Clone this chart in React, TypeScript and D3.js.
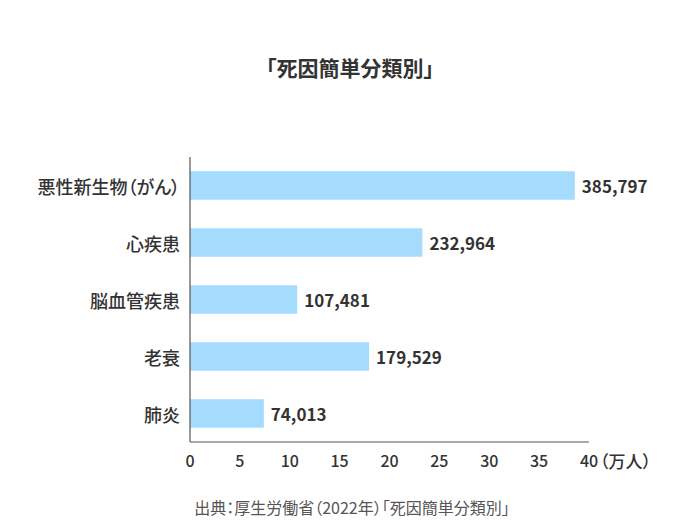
import React from "react";
import * as d3 from "d3";

const categories = ["悪性新生物（がん）", "心疾患", "脳血管疾患", "老衰", "肺炎"];
const deaths = [385797, 232964, 107481, 179529, 74013];
const ticks = [0, 5, 10, 15, 20, 25, 30, 35, 40];
const unitLabel = "（万人）";
const title = "「死因簡単分類別」";
const source = "出典：厚生労働省（2022年）「死因簡単分類別」";

const W = 700;
const H = 528;
const FONT = "'Noto Sans CJK JP', 'Noto Sans', sans-serif";
const palt = { fontFeatureSettings: "'palt'" };

export default function App() {
  const x = d3.scaleLinear().domain([0, 40]).range([190, 589]);
  const y = d3
    .scaleBand<string>()
    .domain(categories)
    .range([157, 442])
    .paddingInner(0.5)
    .paddingOuter(0.25);
  const fmt = d3.format(",");
  const axisY = 442;
  return (
    <svg
      width={W}
      height={H}
      style={{ position: "absolute", left: 0, top: 0, background: "#fff" }}
      fontFamily={FONT}
    >
      <text x={350} y={66.5} textAnchor="middle" dominantBaseline="central" fontSize={21} fontWeight={700} fill="#333" style={palt}>
        {title}
      </text>
      {categories.map((c, i) => {
        const v = deaths[i] / 10000;
        const yc = (y(c) as number) + y.bandwidth() / 2;
        return (
          <g key={c}>
            <rect x={x(0)} y={y(c)} width={x(v) - x(0)} height={y.bandwidth()} fill="#a5dbfd" />
            <text x={x(0) - 10} y={yc} textAnchor="end" dominantBaseline="central" fontSize={18} fontWeight={500} fill="#333" style={palt}>
              {c}
            </text>
            <text x={x(v) + 7} y={yc} textAnchor="start" dominantBaseline="central" fontSize={17} fontWeight={700} fill="#333">
              {fmt(deaths[i])}
            </text>
          </g>
        );
      })}
      <line x1={x(0)} x2={x(0)} y1={157} y2={axisY} stroke="#555" strokeWidth={1.2} />
      <line x1={x(0)} x2={x(40)} y1={axisY} y2={axisY} stroke="#555" strokeWidth={1.2} />
      {ticks.map((t) => (
        <text key={t} x={x(t)} y={460} textAnchor="middle" dominantBaseline="central" fontSize={16} fontWeight={500} fill="#333">
          {t}
        </text>
      ))}
      <text x={x(40) + 11} y={460} textAnchor="start" dominantBaseline="central" fontSize={17} fontWeight={500} fill="#333" style={palt}>
        {unitLabel}
      </text>
      <text x={352} y={507} textAnchor="middle" dominantBaseline="central" fontSize={16} fontWeight={400} fill="#555" style={palt}>
        {source}
      </text>
    </svg>
  );
}
